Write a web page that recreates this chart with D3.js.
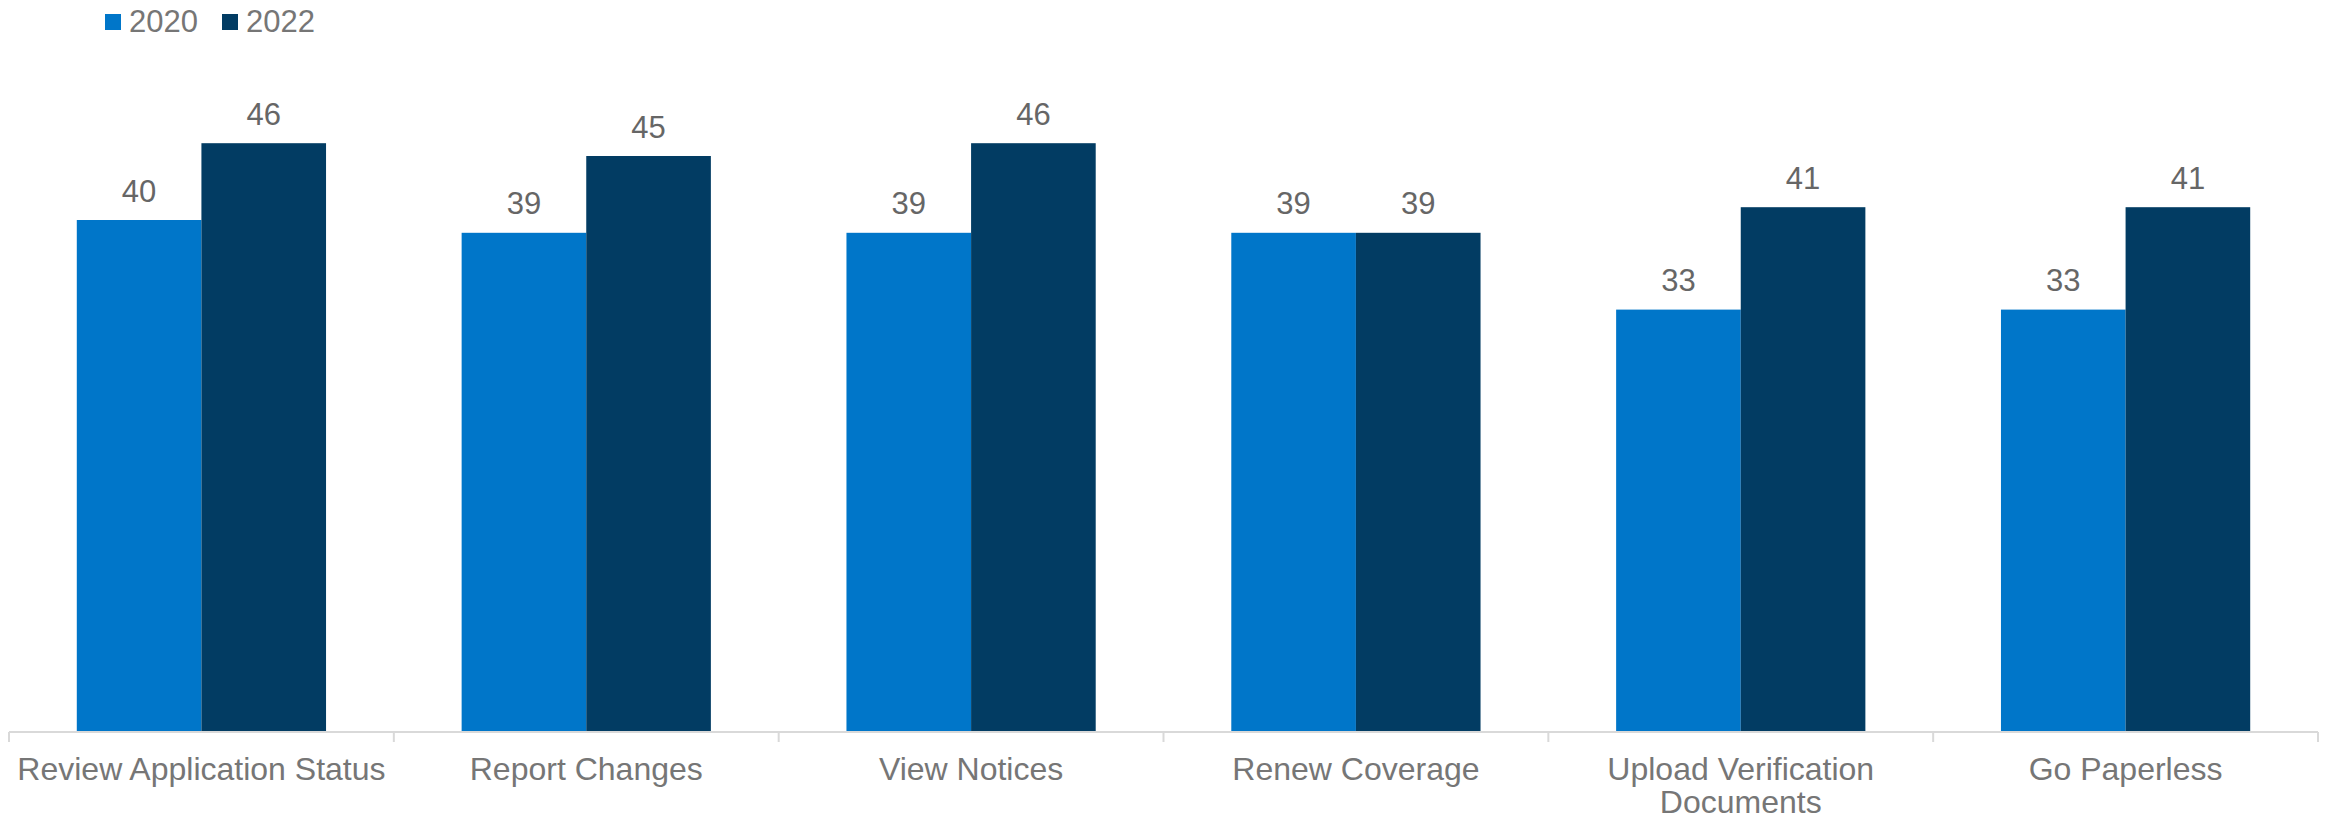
<!DOCTYPE html>
<html>
  <head>
    <meta charset="utf-8">
    <title>Online Actions 2020 vs 2022</title>
    <script src="https://d3js.org/d3.v7.min.js"></script>
    <style>
      body { margin: 0; background: #fff; }
      text { font-family: "Liberation Sans", Arial, sans-serif; }
    </style>
  </head>
  <body>
    <div id="chart"></div>
    <script>
      var categories = ["Review Application Status", "Report Changes", "View Notices",
                        "Renew Coverage", "Upload Verification\nDocuments", "Go Paperless"];
      var seriesNames = ["2020", "2022"];
      var values2020 = [40, 39, 39, 39, 33, 33];
      var values2022 = [46, 45, 46, 39, 41, 41];
      var colors = ["#0076C9", "#023C63"];

      var width = 2333, height = 820;
      var left = 9, right = 2318, baseY = 732, topY = 92;

      var svg = d3.select("#chart").append("svg")
                  .attr("width", width)
                  .attr("height", height);

      var rows = categories.map(function(c, i) {
        return {cat: c, vals: [values2020[i], values2022[i]]};
      });

      var x0 = d3.scaleBand().domain(categories).range([left, right]).padding(0);
      var x1 = d3.scaleBand().domain(seriesNames).range([0, x0.bandwidth()])
                 .paddingInner(0).paddingOuter(0.544);
      var y = d3.scaleLinear().domain([0, 50]).range([baseY, topY]);

      var groups = svg.selectAll("g.group")
                      .data(rows)
                      .enter()
                      .append("g")
                      .attr("class", "group")
                      .attr("transform", function(d) { return "translate(" + x0(d.cat) + ",0)"; });

      groups.selectAll("rect")
            .data(function(d) { return d.vals.map(function(v, i) { return {key: seriesNames[i], v: v, i: i}; }); })
            .enter()
            .append("rect")
            .attr("x", function(d) { return x1(d.key); })
            .attr("y", function(d) { return y(d.v); })
            .attr("width", x1.bandwidth())
            .attr("height", function(d) { return baseY - y(d.v); })
            .attr("fill", function(d) { return colors[d.i]; });

      groups.selectAll("text.val")
            .data(function(d) { return d.vals.map(function(v, i) { return {key: seriesNames[i], v: v}; }); })
            .enter()
            .append("text")
            .attr("class", "val")
            .attr("x", function(d) { return x1(d.key) + x1.bandwidth() / 2; })
            .attr("y", function(d) { return y(d.v) - 18.5; })
            .attr("text-anchor", "middle")
            .attr("fill", "#666666")
            .style("font-size", "31px")
            .text(function(d) { return d.v; });

      // category axis
      var axis = svg.append("g").attr("transform", "translate(0," + baseY + ")");
      axis.append("line")
          .attr("x1", left).attr("x2", right)
          .attr("y1", 0).attr("y2", 0)
          .attr("stroke", "#D9D9D9").attr("stroke-width", 2);
      var tickXs = categories.map(function(c) { return x0(c); }).concat([right]);
      axis.selectAll("line.tick")
          .data(tickXs)
          .enter()
          .append("line")
          .attr("class", "tick")
          .attr("x1", function(d) { return d; }).attr("x2", function(d) { return d; })
          .attr("y1", 0).attr("y2", 10)
          .attr("stroke", "#D9D9D9").attr("stroke-width", 2);

      var labels = axis.selectAll("text.cat")
          .data(categories)
          .enter()
          .append("text")
          .attr("class", "cat")
          .attr("x", function(d) { return x0(d) + x0.bandwidth() / 2; })
          .attr("y", 48)
          .attr("text-anchor", "middle")
          .attr("fill", "#767676")
          .style("font-size", "32px");
      labels.each(function(d) {
        var lines = d.split("\n");
        var t = d3.select(this);
        lines.forEach(function(l, i) {
          t.append("tspan")
           .attr("x", x0(d) + x0.bandwidth() / 2)
           .attr("dy", i === 0 ? 0 : 33)
           .text(l);
        });
      });

      // legend
      var legend = svg.append("g");
      var legendX = [105, 222];
      seriesNames.forEach(function(s, i) {
        legend.append("rect")
              .attr("x", legendX[i]).attr("y", 14)
              .attr("width", 16).attr("height", 16)
              .attr("fill", colors[i]);
        legend.append("text")
              .attr("x", legendX[i] + 24).attr("y", 31.5)
              .attr("fill", "#767676")
              .style("font-size", "31px")
              .text(s);
      });
    </script>
  </body>
</html>
